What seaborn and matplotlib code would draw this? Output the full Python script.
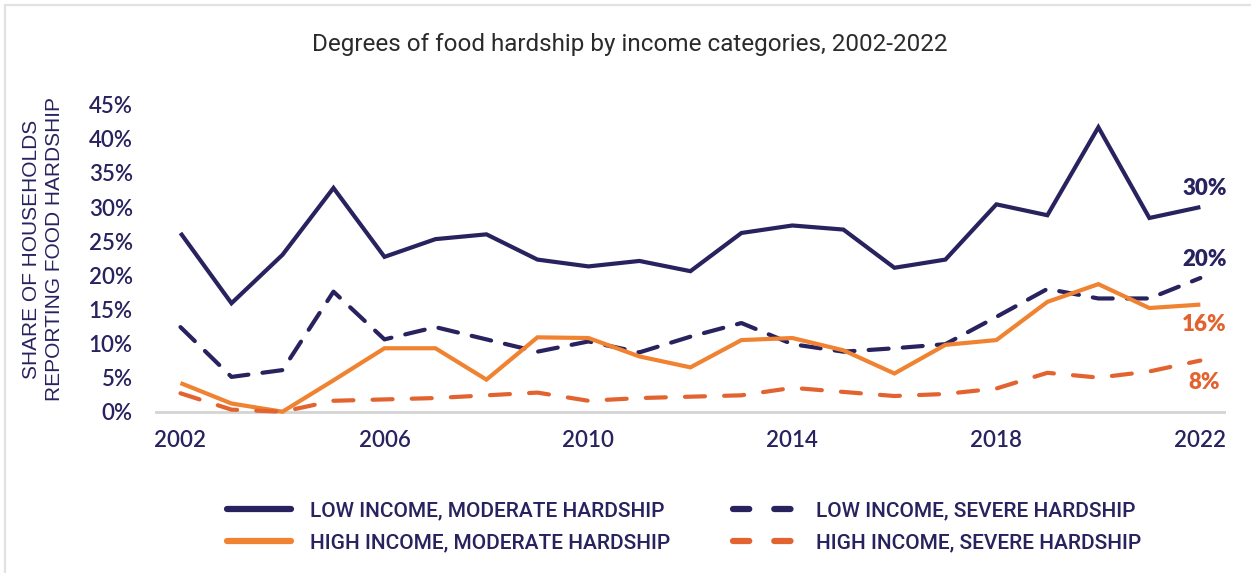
import matplotlib
matplotlib.use("Agg")
import matplotlib.pyplot as plt
from matplotlib.lines import Line2D
import numpy as np
import pandas as pd
import seaborn as sns

# ---- data -------------------------------------------------------------
years = list(range(2002, 2023))

low_moderate = [26.2, 15.9, 23.0, 32.8, 22.7, 25.3, 26.0, 22.3, 21.3, 22.1,
                20.6, 26.2, 27.3, 26.7, 21.1, 22.3, 30.4, 28.8, 41.7, 28.4, 30.0]
low_severe = [12.4, 5.1, 6.1, 17.6, 10.6, 12.4, 10.6, 8.8, 10.3, 8.7,
              11.0, 13.0, 9.9, 8.8, 9.3, 9.9, 13.9, 18.0, 16.6, 16.6, 19.6]
high_moderate = [4.2, 1.2, 0.0, 4.6, 9.3, 9.3, 4.7, 10.9, 10.8, 8.1,
                 6.5, 10.5, 10.8, 9.0, 5.6, 9.8, 10.5, 16.1, 18.7, 15.2, 15.7]
high_severe = [2.7, 0.3, 0.0, 1.6, 1.8, 2.0, 2.4, 2.8, 1.6, 2.0,
               2.2, 2.4, 3.5, 2.9, 2.3, 2.6, 3.4, 5.7, 5.0, 5.9, 7.5]

series_names = ["LOW INCOME, MODERATE HARDSHIP", "LOW INCOME, SEVERE HARDSHIP",
                "HIGH INCOME, MODERATE HARDSHIP", "HIGH INCOME, SEVERE HARDSHIP"]
x_ticks = [2002, 2006, 2010, 2014, 2018, 2022]
y_ticks = [0, 5, 10, 15, 20, 25, 30, 35, 40, 45]

title = "Degrees of food hardship by income categories, 2002-2022"
y_label = "SHARE OF HOUSEHOLDS\nREPORTING FOOD HARDSHIP"

# ---- styling ----------------------------------------------------------
NAVY = "#28235F"
ORANGE = "#F08331"
ORANGE_DARK = "#E2632F"

palette = {series_names[0]: NAVY, series_names[1]: NAVY,
           series_names[2]: ORANGE, series_names[3]: ORANGE_DARK}
dash_map = {series_names[0]: "", series_names[1]: (4.8, 3.4),
            series_names[2]: "", series_names[3]: (4.8, 4.6)}

sns.set_theme(style="white")
plt.rcParams["font.family"] = ["Lato", "DejaVu Sans"]

df = pd.DataFrame({
    "year": years * 4,
    "value": low_moderate + low_severe + high_moderate + high_severe,
    "series": sum([[n] * len(years) for n in series_names], []),
})

fig = plt.figure(figsize=(12.51, 5.73), dpi=100)
ax = fig.add_axes([0.1239, 0.2696, 0.856, 0.5595])

sns.lineplot(data=df, x="year", y="value", hue="series", style="series",
             palette=palette, dashes=dash_map, hue_order=series_names,
             style_order=series_names, linewidth=3.0, legend=False, ax=ax,
             clip_on=False)
for ln in ax.lines:
    ln.set_solid_capstyle("butt")
    ln.set_dash_capstyle("round")
    ln.set_solid_joinstyle("miter")

ax.set_xlim(2001.5, 2022.5)
ax.set_ylim(-1, 46)
ax.axhline(0, color="#D4D4D4", linewidth=2.0, zorder=0)
for s in ax.spines.values():
    s.set_visible(False)

ax.set_xticks(x_ticks)
ax.set_xticklabels([str(t) for t in x_ticks])
ax.set_yticks(y_ticks)
ax.set_yticklabels([f"{t}%" for t in y_ticks])
ax.tick_params(axis="both", length=0, labelsize=16, colors=NAVY)
ax.tick_params(axis="y", pad=16)
ax.tick_params(axis="x", pad=8)
for lab in ax.get_xticklabels() + ax.get_yticklabels():
    lab.set_fontweight("semibold")
ax.set_xlabel("")
ax.set_ylabel("")

# end-of-line value labels
end_vals = [low_moderate[-1], low_severe[-1], high_moderate[-1], high_severe[-1]]
end_colors = [NAVY, NAVY, ORANGE_DARK, ORANGE_DARK]
end_offsets = [13.5, 13.0, -14.5, -16.0]
for v, c, off in zip(end_vals, end_colors, end_offsets):
    ax.annotate(f"{round(v)}%", xy=(years[-1], v), xytext=(3, off),
                textcoords="offset points", ha="center", va="center",
                fontsize=16, fontweight="heavy", color=c, annotation_clip=False)

# title and axis label
fig.text(630 / 1251, 1 - 44 / 573, title, ha="center", va="center",
         fontsize=17.5, color="#2B2B2B", family=["Roboto", "DejaVu Sans"])
fig.text(43 / 1251, 1 - 249 / 573, y_label, ha="center", va="center",
         rotation=90, fontsize=15, color=NAVY, linespacing=1.25,
         family=["Liberation Sans", "DejaVu Sans"])

# legend below the chart (column-major fill for a 2x2 layout)
order = [0, 2, 1, 3]
handles = [Line2D([0], [0], color=palette[series_names[i]], linewidth=4.5,
                  linestyle="-" if dash_map[series_names[i]] == "" else (0, (2.6, 4.0)),
                  dash_capstyle="round", solid_capstyle="round")
           for i in order]
labels = [series_names[i] for i in order]
leg = fig.legend(handles, labels, ncol=2, loc="center",
                 bbox_to_anchor=(684 / 1251, 1 - 527 / 573), frameon=False,
                 handlelength=3.1, handletextpad=0.9, columnspacing=3.0,
                 labelspacing=0.6,
                 prop={"family": ["Roboto", "DejaVu Sans"],
                       "size": 15, "weight": "medium"})
for t in leg.get_texts():
    t.set_color(NAVY)

# thin frame at the top and left edges of the graphic
fig.add_artist(Line2D([5 / 1251, 1], [1 - 5 / 573, 1 - 5 / 573],
                      transform=fig.transFigure, color="#E2E2E2", linewidth=1.6))
fig.add_artist(Line2D([5 / 1251, 5 / 1251], [0, 1 - 5 / 573],
                      transform=fig.transFigure, color="#E2E2E2", linewidth=1.6))

fig.savefig("out.png", dpi=100, facecolor="white")
